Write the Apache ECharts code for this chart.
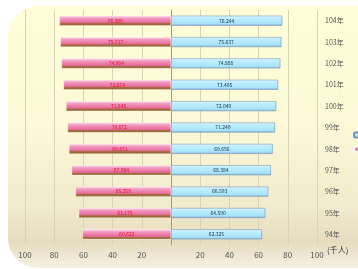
<!DOCTYPE html>
<html>
<head>
<meta charset="utf-8">
<script src="https://cdn.jsdelivr.net/npm/echarts@6/dist/echarts.min.js"></script>
<style>
  html, body { margin: 0; padding: 0; background: #fff; }
  #chart { width: 358px; height: 269px; }
</style>
</head>
<body>
<div id="chart"></div>
<script>
var years = ['94年', '95年', '96年', '97年', '98年', '99年', '100年', '101年', '102年', '103年', '104年'];
var maleValues = [62.325, 64.590, 66.593, 68.384, 69.656, 71.240, 72.040, 73.405, 74.888, 75.637, 76.244];
var femaleValues = [60.622, 63.175, 65.359, 67.984, 69.871, 70.872, 71.846, 73.574, 74.964, 75.717, 76.389];
var seriesNames = ['男', '女'];

function initChart(){
  var myChart = echarts.init(document.getElementById('chart'));
  var femaleNeg = femaleValues.map(function(v){ return -v; });
  var gridColors = [];
  for (var i = 0; i < 11; i++) {
    gridColors.push(i === 5 ? 'rgba(0,0,0,0)' : '#d8d2b6');
  }

  var option = {
    animation: false,
    textStyle: { fontFamily: 'Noto Sans CJK TC, DejaVu Sans, sans-serif' },
    graphic: [{
      type: 'rect',
      z: -10,
      shape: { x: 8, y: 6, width: 380, height: 262, r: 30 },
      style: {
        fill: new echarts.graphic.LinearGradient(0, 0, 0, 1, [
          { offset: 0, color: '#fffed8' },
          { offset: 0.45, color: '#fdf9d6' },
          { offset: 0.78, color: '#f1e9cc' },
          { offset: 0.9, color: '#e6dbbe' },
          { offset: 1, color: '#f6f1e3' }
        ])
      }
    }, {
      type: 'text',
      left: 327,
      top: 246,
      style: { text: '(千人)', fontSize: 8, fill: '#333', fontFamily: 'Noto Sans CJK TC' }
    }],
    legend: {
      orient: 'vertical',
      left: 348,
      top: 126,
      itemWidth: 5,
      itemHeight: 5,
      itemGap: 6,
      textStyle: { fontSize: 8, color: '#333' },
      data: seriesNames
    },
    grid: { left: 25, right: 41, top: 10, bottom: 24 },
    xAxis: {
      type: 'value',
      min: -100,
      max: 100,
      interval: 20,
      axisLine: { show: false },
      axisTick: { show: false },
      splitLine: { lineStyle: { color: gridColors, width: 1 } },
      axisLabel: {
        color: '#555',
        fontSize: 8,
        margin: 6,
        formatter: function(v){ return v === 0 ? '' : String(Math.abs(v)); }
      }
    },
    yAxis: {
      type: 'category',
      position: 'right',
      data: years,
      axisLine: { lineStyle: { color: '#999' } },
      axisTick: { inside: true, length: 3, lineStyle: { color: '#999' } },
      axisLabel: { color: '#555', fontSize: 7, margin: 8 }
    },
    series: [{
      name: seriesNames[0],
      type: 'bar',
      stack: 'all',
      barWidth: 10,
      data: maleValues,
      itemStyle: {
        color: new echarts.graphic.LinearGradient(0, 0, 0, 1, [
          { offset: 0, color: '#eafaff' },
          { offset: 0.25, color: '#bdeeff' },
          { offset: 0.8, color: '#a7e3fb' },
          { offset: 1, color: '#8aaac8' }
        ]),
        borderColor: '#6f93c4',
        borderWidth: 0.6
      },
      label: {
        show: true,
        position: 'inside',
        fontSize: 5,
        color: '#1a2a55',
        formatter: function(p){ return p.value.toFixed(3); }
      }
    }, {
      name: seriesNames[1],
      type: 'bar',
      stack: 'all',
      barWidth: 10,
      data: femaleNeg,
      itemStyle: {
        color: new echarts.graphic.LinearGradient(0, 0, 0, 1, [
          { offset: 0, color: '#fde0ee' },
          { offset: 0.25, color: '#f29bc0' },
          { offset: 0.72, color: '#e5669a' },
          { offset: 0.76, color: '#a5703e' },
          { offset: 1, color: '#8a5a2c' }
        ]),
        borderColor: '#fff4f8',
        borderWidth: 0.4
      },
      label: {
        show: true,
        position: 'inside',
        fontSize: 5,
        color: '#e0102a',
        formatter: function(p){ return (-p.value).toFixed(3); }
      }
    }]
  };
  myChart.setOption(option);
}

initChart();
</script>
</body>
</html>
